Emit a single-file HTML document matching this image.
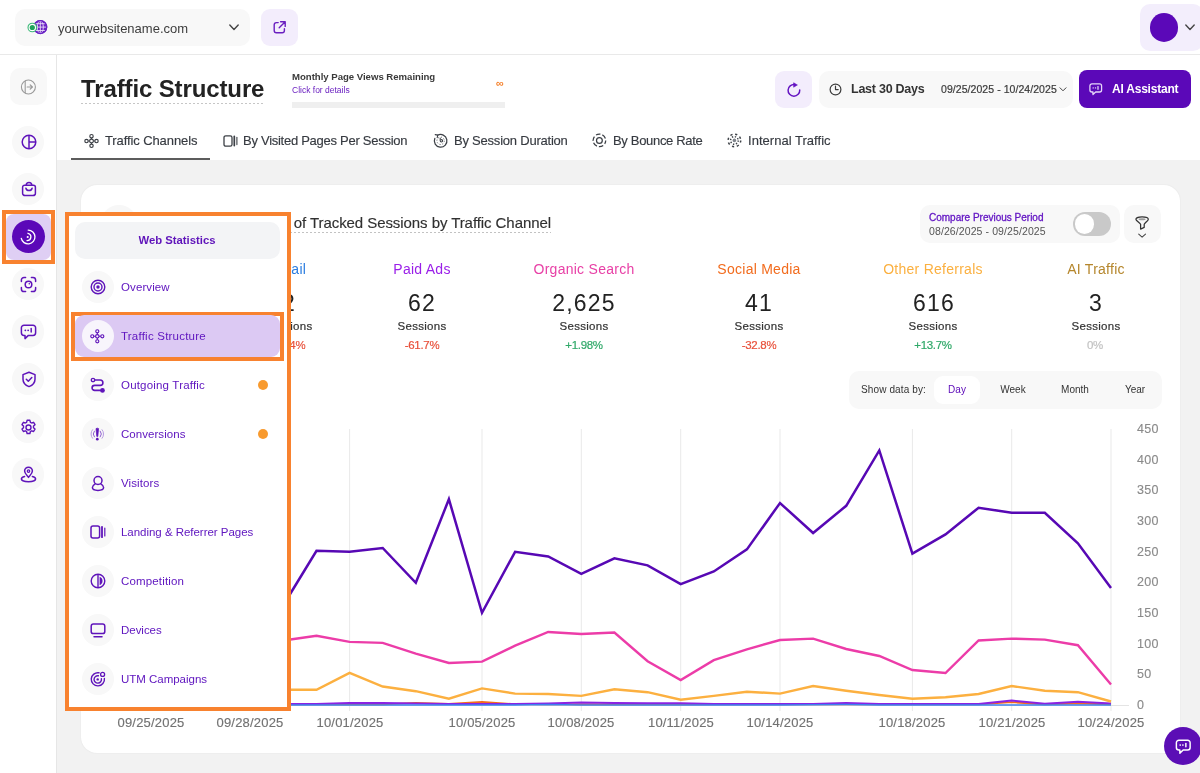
<!DOCTYPE html>
<html>
<head>
<meta charset="utf-8">
<title>Traffic Structure</title>
<style>
*{box-sizing:border-box;margin:0;padding:0}
html,body{width:1200px;height:773px;overflow:hidden;background:#fff}
body{font-family:"Liberation Sans",sans-serif;color:#222;position:relative}
.abs{position:absolute}
.t{position:absolute;white-space:nowrap;line-height:1;will-change:transform}
svg{position:absolute;overflow:visible}
/* header */
#hdr{left:0;top:0;width:1200px;height:55px;background:#fff;border-bottom:1px solid #e9e9e9}
#site{left:14.500px;top:9px;width:235px;height:37px;background:#f8f8f8;border-radius:10px}
#ext{left:261px;top:9px;width:37px;height:37px;background:#f3edfc;border-radius:9px}
#ava{left:1140.400px;top:4.200px;width:63px;height:46.800px;background:#f3eefc;border-radius:10px}
#avac{left:1149.800px;top:13px;width:28.600px;height:28.800px;border-radius:50%;background:#5b08b8}
/* sidebar */
#side{left:0;top:55px;width:57px;height:718px;background:#fff;border-right:1px solid #e6e6e6}
.sic{position:absolute;left:12.100px;width:32.300px;height:32.300px;border-radius:50%;background:#f8f8f8}
#collapse{left:9.700px;top:68.200px;width:37.200px;height:37px;background:#f8f8f8;border-radius:10px}
/* main */
#graybg{left:57px;top:160px;width:1143px;height:613px;background:#f2f2f2}
#card{left:81px;top:185.400px;width:1099.300px;height:567.600px;background:#fff;border-radius:16px;box-shadow:0 0 2px rgba(0,0,0,0.070)}
.tab{top:140px;transform:translateY(-50%);font-size:13px;color:#363a40;-webkit-text-stroke:0.150px #363a40}
.cl{top:268.900px;transform:translate(-50%,-50%);font-size:14px;letter-spacing:0.260px;margin-left:0.130px}
.cn{top:302.900px;transform:translate(-50%,-50%);font-size:23px;color:#222;letter-spacing:1.200px;margin-left:0.600px}
.cs{top:327.400px;transform:translate(-50%,-50%);font-size:11.500px;color:#333;-webkit-text-stroke:0.200px #333;letter-spacing:0.300px;margin-left:0.150px}
.cp{top:346px;transform:translate(-50%,-50%);font-size:11.500px;-webkit-text-stroke:0.200px;letter-spacing:-0.300px;margin-left:-0.150px}
.sd{top:390.300px;transform:translate(-50%,-50%);font-size:10px;color:#333}
.yl{left:1136.800px;transform:translateY(-50%);font-size:12.500px;letter-spacing:0.350px;color:#8a8a8a;-webkit-text-stroke:0.120px #8a8a8a}
.xl{top:722px;transform:translate(-50%,-50%);font-size:13px;letter-spacing:0.200px;margin-left:0.100px;color:#727272;-webkit-text-stroke:0.150px #727272}
.mic{position:absolute;left:81.500px;width:32px;height:32px;border-radius:50%;background:#f8f8f8}
.mt{left:120.500px;margin-top:0.900px;transform:translateY(-50%);font-size:11.500px;color:#6118c0}
</style>
</head>
<body>
<!-- HEADER -->
<div class="abs" id="hdr"></div>
<div class="abs" id="site"></div>
<div class="abs" id="ext"></div>
<div class="abs" id="ava"></div>
<div class="abs" id="avac"></div>
<!-- SIDEBAR -->
<div class="abs" id="side"></div>
<div class="abs" id="collapse"></div>
<!-- MAIN -->
<div class="abs" id="graybg"></div>
<div class="abs" id="card"></div>

<!-- header content -->
<svg style="left:27px;top:19px" width="21" height="17" viewBox="0 0 21 17">
  <circle cx="13.300" cy="8.100" r="7" fill="#6a22c4"/>
  <ellipse cx="13.300" cy="8.100" rx="3" ry="6.200" fill="none" stroke="#e9dcf8" stroke-width="0.900"/>
  <path d="M7 8.100h12.600M8 4.700h10.600M8 11.500h10.600M13.300 1.800v12.600" stroke="#e9dcf8" stroke-width="0.900" fill="none"/>
  <circle cx="13.300" cy="8.100" r="6.400" fill="none" stroke="#6a22c4" stroke-width="1.300"/>
  <circle cx="5.300" cy="8.500" r="4.300" fill="#fff" stroke="#3cb878" stroke-width="1.100"/>
  <circle cx="5.300" cy="8.500" r="2.600" fill="#1fa35c"/>
</svg>
<span class="t" style="left:58.300px;top:27.500px;transform:translateY(-50%);font-size:13px;color:#3d3d3d">yourwebsitename.com</span>
<svg style="left:229px;top:24px" width="10" height="7" viewBox="0 0 10 7"><path d="M0.8 1l4.2 4.4L9.2 1" fill="none" stroke="#444" stroke-width="1.4" stroke-linecap="round" stroke-linejoin="round"/></svg>
<svg style="left:272px;top:20px" width="15" height="15" viewBox="0 0 15 15"><path d="M6.2 2.6H4.4a2.2 2.2 0 0 0-2.2 2.2v5.8a2.2 2.2 0 0 0 2.2 2.2h5.8a2.2 2.2 0 0 0 2.2-2.2V8.8" fill="none" stroke="#6a1fc0" stroke-width="1.4" stroke-linecap="round"/><path d="M8.6 1.8h4.6v4.6M13 2L7.2 7.8" fill="none" stroke="#6a1fc0" stroke-width="1.4" stroke-linecap="round" stroke-linejoin="round"/></svg>
<svg style="left:1185px;top:23.800px" width="10" height="7" viewBox="0 0 10 7"><path d="M0.8 1l4.200 4.400L9.200 1" fill="none" stroke="#444" stroke-width="1.4" stroke-linecap="round" stroke-linejoin="round"/></svg>

<!-- title row -->
<span class="t" id="ttl" style="left:81px;top:89.300px;transform:translateY(-50%);font-size:24px;font-weight:700;color:#222;letter-spacing:-0.12px">Traffic Structure</span>
<div class="abs" style="left:81px;top:103px;width:184px;height:1px;background:repeating-linear-gradient(90deg,#c6c6c6 0 2px,transparent 2px 4px)"></div>
<span class="t" style="left:291.5px;top:76.5px;transform:translateY(-50%);font-size:9.600px;font-weight:700;color:#3a3a3a;letter-spacing:-0.020px">Monthly Page Views Remaining</span>
<span class="t" style="left:291.5px;top:89.5px;transform:translateY(-50%);font-size:8.5px;color:#6a1fc0">Click for details</span>
<span class="t" style="left:495.5px;top:83px;transform:translateY(-50%);font-size:11px;font-weight:700;color:#f5802a">&#8734;</span>
<div class="abs" style="left:291.5px;top:102px;width:213.5px;height:6px;background:#efefef"></div>

<div class="abs" style="left:775.100px;top:70.600px;width:37px;height:37.200px;border-radius:9px;background:#f3edfc"></div>
<svg style="left:785.600px;top:80.700px" width="15.800" height="16.700" viewBox="0 0 17 18"><path d="M9.300 3.800A6.300 6.300 0 1 0 14.800 9.700" fill="none" stroke="#6414c2" stroke-width="1.600" stroke-linecap="round"/><path d="M8.200 1.900L12.300 4.300 8.200 6.700z" fill="#6414c2" stroke="#6414c2" stroke-width="0.600" stroke-linejoin="round"/></svg>
<div class="abs" style="left:819px;top:70.600px;width:254px;height:37.200px;border-radius:10px;background:#f8f8f8"></div>
<svg style="left:829.400px;top:82.700px" width="13" height="13" viewBox="0 0 13 13"><circle cx="6.500" cy="6.500" r="5.400" fill="none" stroke="#3c3c3c" stroke-width="1.200"/><path d="M6.500 3.200v3.400h2.700" fill="none" stroke="#3c3c3c" stroke-width="1.200" stroke-linecap="round" stroke-linejoin="round"/></svg>
<span class="t" style="left:851px;top:89px;transform:translateY(-50%);font-size:12.5px;font-weight:700;color:#333;letter-spacing:-0.25px">Last 30 Days</span>
<span class="t" style="left:941px;top:89px;transform:translateY(-50%);font-size:10.500px;color:#3a3a3a;-webkit-text-stroke:0.200px #3a3a3a;letter-spacing:0.060px">09/25/2025 - 10/24/2025</span>
<svg style="left:1058.5px;top:87px" width="8" height="5" viewBox="0 0 8 5"><path d="M1 0.8l3 3 3-3" fill="none" stroke="#444" stroke-width="1" stroke-linecap="round" stroke-linejoin="round"/></svg>
<div class="abs" style="left:1079.300px;top:70px;width:111.500px;height:38.200px;border-radius:8px;background:#5b08b8"></div>
<svg style="left:1089.300px;top:83.200px" width="13.500" height="12.600" viewBox="0 0 15 14"><path d="M3.2 1h8.6a2.2 2.2 0 0 1 2.2 2.2v4.6a2.2 2.2 0 0 1-2.2 2.2H7.4L4.4 12.8V10H3.2A2.2 2.2 0 0 1 1 7.8V3.2A2.2 2.2 0 0 1 3.2 1z" fill="none" stroke="#e6d6f9" stroke-width="1.4" stroke-linejoin="round"/><path d="M4.6 5.5h.1M7.2 5.5h.1" stroke="#e6d6f9" stroke-width="1.5" stroke-linecap="round"/><path d="M10 4v3" stroke="#e6d6f9" stroke-width="1.4" stroke-linecap="round"/></svg>
<span class="t" style="left:1112px;top:89px;transform:translateY(-50%);font-size:12px;font-weight:700;color:#fff;letter-spacing:-0.220px">AI Assistant</span>

<!-- tabs -->
<span class="t tab" style="left:105px;letter-spacing:-0.1px">Traffic Channels</span>
<span class="t tab" style="left:243px;letter-spacing:-0.27px">By Visited Pages Per Session</span>
<span class="t tab" style="left:454px;letter-spacing:-0.22px">By Session Duration</span>
<span class="t tab" style="left:613px;letter-spacing:-0.32px">By Bounce Rate</span>
<span class="t tab" style="left:747.500px;letter-spacing:0.03px">Internal Traffic</span>
<div class="abs" style="left:71px;top:158.400px;width:139px;height:1.600px;background:#5c5c5c"></div>

<!-- sidebar icons -->
<svg style="left:20px;top:79px" width="17" height="16" viewBox="0 0 17 16"><circle cx="8.4" cy="8" r="7" fill="none" stroke="#9a9a9a" stroke-width="1.1"/><path d="M5.2 1.9v12.2" stroke="#9a9a9a" stroke-width="1.1"/><path d="M7.2 8h5M10.2 5.8L12.4 8l-2.2 2.2" fill="none" stroke="#9a9a9a" stroke-width="1.2" stroke-linecap="round" stroke-linejoin="round"/></svg>
<div class="sic" style="top:126.10px"></div>
<div class="sic" style="top:173.05px"></div>
<div class="abs" style="left:2px;top:210px;width:53px;height:54.200px;border:4px solid #f8822f"></div>
<div class="abs" style="left:6px;top:214px;width:45px;height:46.200px;border-radius:8px;background:#dfcff4"></div>
<div class="abs" style="left:11.700px;top:220.200px;width:33.200px;height:33.200px;border-radius:50%;background:#5b08b8"></div>
<div class="sic" style="top:268.15px"></div>
<div class="sic" style="top:315.45px"></div>
<div class="sic" style="top:362.95px"></div>
<div class="sic" style="top:410.85px"></div>
<div class="sic" style="top:458.35px"></div>
<!-- pie -->
<svg style="left:20.5px;top:134px" width="16" height="16" viewBox="0 0 16 16"><circle cx="8" cy="8" r="6.8" fill="none" stroke="#5f14ba" stroke-width="1.5"/><path d="M8 1.2v13.6M8 8h6.8" stroke="#5f14ba" stroke-width="1.5"/></svg>
<!-- bag -->
<svg style="left:20.5px;top:181px" width="16" height="16" viewBox="0 0 16 16"><path d="M3.6 4.2h8.8a2 2 0 0 1 2 2v6a2.4 2.4 0 0 1-2.4 2.4H4a2.4 2.4 0 0 1-2.4-2.4v-6a2 2 0 0 1 2-2z" fill="none" stroke="#5f14ba" stroke-width="1.5" stroke-linejoin="round"/><path d="M5.2 4.2c0-1.8 1.2-2.8 2.8-2.8s2.8 1 2.8 2.8" fill="none" stroke="#5f14ba" stroke-width="1.5"/><path d="M4.9 7.2c.4 1.5 1.6 2.3 3.1 2.3s2.7-.8 3.1-2.3" fill="none" stroke="#5f14ba" stroke-width="1.5" stroke-linecap="round"/></svg>
<!-- active spiral -->
<svg style="left:20.300px;top:229px" width="16" height="16" viewBox="0 0 16 16"><path d="M8.200 1.100A6.900 6.900 0 1 1 1.300 9.400" fill="none" stroke="#fff" stroke-width="1.350" stroke-linecap="round"/><path d="M8 4.300A3.700 3.700 0 0 1 7 11.600" fill="none" stroke="#fff" stroke-width="1.350" stroke-linecap="round"/><circle cx="7.700" cy="8" r="1.050" fill="#fff"/></svg>
<!-- scan -->
<svg style="left:20px;top:276px" width="17" height="17" viewBox="0 0 17 17"><path d="M1.4 5.6V4a2.6 2.6 0 0 1 2.6-2.6h1.6M11.4 1.4H13A2.6 2.6 0 0 1 15.600 4v1.600M15.600 11.4V13a2.600 2.600 0 0 1-2.600 2.600h-1.600M5.600 15.600H4A2.600 2.600 0 0 1 1.400 13v-1.600" fill="none" stroke="#5f14ba" stroke-width="1.5" stroke-linecap="round"/><circle cx="8.5" cy="8.500" r="3.300" fill="none" stroke="#5f14ba" stroke-width="1.500"/><circle cx="9.300" cy="7.700" r=".8" fill="#5f14ba"/></svg>
<!-- chat -->
<svg style="left:20px;top:323.500px" width="17" height="16" viewBox="0 0 17 16"><path d="M4 1.200h9a2.600 2.600 0 0 1 2.600 2.600v5a2.600 2.600 0 0 1-2.600 2.600H8.400L5 14.600v-3.200H4a2.600 2.600 0 0 1-2.600-2.600v-5A2.600 2.600 0 0 1 4 1.200z" fill="none" stroke="#5f14ba" stroke-width="1.500" stroke-linejoin="round"/><path d="M5.300 6.300h.1M8.100 6.300h.1" stroke="#5f14ba" stroke-width="1.700" stroke-linecap="round"/><path d="M11.200 4.600v3.400" stroke="#5f14ba" stroke-width="1.500" stroke-linecap="round"/></svg>
<!-- shield -->
<svg style="left:20.500px;top:370.500px" width="16" height="17" viewBox="0 0 16 17"><path d="M8 1.200l6 2.400v4.600c0 3.400-2.400 6-6 7.400-3.600-1.400-6-4-6-7.400V3.600z" fill="none" stroke="#5f14ba" stroke-width="1.500" stroke-linejoin="round"/><path d="M5.300 8.200l2 2 3.500-3.700" fill="none" stroke="#5f14ba" stroke-width="1.500" stroke-linecap="round" stroke-linejoin="round"/></svg>
<!-- gear -->
<svg style="left:20px;top:418.500px" width="17" height="17" viewBox="0 0 17 17"><path d="M7.100 1.300h2.800l.5 2 1.300.7 1.900-.7 1.400 2.400-1.500 1.400v1.600l1.500 1.400-1.400 2.400-1.900-.7-1.300.7-.5 2H7.100l-.5-2-1.300-.7-1.900.7L2 10.100l1.500-1.400V7.100L2 5.700l1.400-2.400 1.900.7 1.300-.7z" fill="none" stroke="#5f14ba" stroke-width="1.400" stroke-linejoin="round"/><circle cx="8.500" cy="8.500" r="2.500" fill="none" stroke="#5f14ba" stroke-width="1.400"/></svg>
<!-- pin -->
<svg style="left:20px;top:466px" width="17" height="17" viewBox="0 0 17 17"><path d="M8.500 1.200a3.900 3.900 0 0 1 3.900 3.900c0 2.500-2.600 4.600-3.900 6.300-1.300-1.700-3.900-3.800-3.900-6.300a3.900 3.900 0 0 1 3.900-3.900z" fill="none" stroke="#5f14ba" stroke-width="1.500" stroke-linejoin="round"/><circle cx="8.500" cy="5.100" r="1.200" fill="none" stroke="#5f14ba" stroke-width="1.300"/><path d="M4.600 10.600c-1.900.5-3.200 1.400-3.200 2.500 0 1.500 3.200 2.700 7.100 2.700s7.100-1.200 7.100-2.700c0-1.100-1.300-2-3.200-2.500" fill="none" stroke="#5f14ba" stroke-width="1.500" stroke-linecap="round"/></svg>

<!-- card content -->
<div class="abs" style="left:101px;top:205px;width:36px;height:36px;border-radius:50%;background:#f7f7f7"></div>
<span class="t" id="ctitle" style="left:550.700px;top:221.600px;transform:translate(-100%,-50%);font-size:15px;color:#303030;-webkit-text-stroke:0.150px #303030;letter-spacing:-0.070px">Number of Tracked Sessions by Traffic Channel</span>
<div class="abs" style="left:150px;top:232px;width:401px;height:1px;background:repeating-linear-gradient(90deg,#c2c2c2 0 2px,transparent 2px 4px)"></div>
<span class="t cl" style="left:287.5px;color:#2b7de0">Email</span><span class="t cn" style="left:288.700px">2</span><span class="t cs" style="left:287.5px">Sessions</span><span class="t cp" style="left:288.500px;color:#e8503a">-71.4%</span>
<span class="t cl" style="left:421.8px;color:#9a1fe8">Paid Ads</span><span class="t cn" style="left:421.8px">62</span><span class="t cs" style="left:421.8px">Sessions</span><span class="t cp" style="left:421.8px;color:#e8503a">-61.7%</span>
<span class="t cl" style="left:583.8px;color:#e840a6">Organic Search</span><span class="t cn" style="left:583.8px">2,625</span><span class="t cs" style="left:583.8px">Sessions</span><span class="t cp" style="left:583.8px;color:#2fa868">+1.98%</span>
<span class="t cl" style="left:758.8px;color:#f26c1e">Social Media</span><span class="t cn" style="left:758.8px">41</span><span class="t cs" style="left:758.8px">Sessions</span><span class="t cp" style="left:758.8px;color:#e8503a">-32.8%</span>
<span class="t cl" style="left:933.2px;color:#fbb040">Other Referrals</span><span class="t cn" style="left:933.2px">616</span><span class="t cs" style="left:933.2px">Sessions</span><span class="t cp" style="left:933.2px;color:#2fa868">+13.7%</span>
<span class="t cl" style="left:1095.5px;color:#b5862c">AI Traffic</span><span class="t cn" style="left:1095.5px">3</span><span class="t cs" style="left:1095.5px">Sessions</span><span class="t cp" style="left:1095.5px;color:#c2c2c2">0%</span>

<div class="abs" style="left:920px;top:205px;width:199.5px;height:37.500px;border-radius:10px;background:#f8f8f8"></div>
<span class="t" style="left:929.3px;top:217.500px;transform:translateY(-50%);font-size:10px;color:#6417c4;-webkit-text-stroke:0.300px #6417c4;letter-spacing:0px">Compare Previous Period</span>
<span class="t" style="left:929.300px;top:231.100px;transform:translateY(-50%);font-size:10.5px;color:#555;letter-spacing:0.1px">08/26/2025 - 09/25/2025</span>
<div class="abs" style="left:1072.5px;top:212px;width:38.5px;height:23.5px;border-radius:12px;background:#c9c9c9"></div>
<div class="abs" style="left:1074.5px;top:214px;width:19.5px;height:19.5px;border-radius:50%;background:#fff"></div>
<div class="abs" style="left:1124px;top:205.300px;width:37.300px;height:37.600px;border-radius:10px;background:#f8f8f8"></div>
<svg style="left:1135.400px;top:216px" width="15" height="24" viewBox="0 0 15 24"><path d="M0.900 3.200C0.900 1.900 3.700 0.900 7.100 0.900S13.300 1.900 13.300 3.200C13.300 4.700 10 6.600 9.200 8.200V11.400L5.600 13.100V8.200C4.800 6.600 0.900 4.700 0.900 3.200Z" fill="none" stroke="#333" stroke-width="1.250" stroke-linejoin="round"/><ellipse cx="7.100" cy="3.300" rx="3.500" ry="0.950" fill="#9c9c9c"/><path d="M3.700 18.100l3.400 3 3.400-3" fill="none" stroke="#444" stroke-width="1.050" stroke-linecap="round" stroke-linejoin="round"/></svg>

<div class="abs" style="left:849px;top:371px;width:312.500px;height:37.500px;border-radius:10px;background:#f8f8f8"></div>
<div class="abs" style="left:934.300px;top:375.500px;width:45.700px;height:28.500px;border-radius:9px;background:#fff"></div>
<span class="t" style="left:860.700px;top:390.300px;transform:translateY(-50%);font-size:10px;color:#333;letter-spacing:0.12px">Show data by:</span>
<span class="t sd" style="left:957px;color:#5b08b8">Day</span>
<span class="t sd" style="left:1013.300px">Week</span>
<span class="t sd" style="left:1075.400px">Month</span>
<span class="t sd" style="left:1134.800px">Year</span>
<!-- chart -->
<svg style="left:0;top:0" width="1200" height="773" viewBox="0 0 1200 773">
<path d="M151.0 429V711" stroke="#e9e9e9" stroke-width="1"/><path d="M250.3 429V711" stroke="#e9e9e9" stroke-width="1"/><path d="M349.6 429V711" stroke="#e9e9e9" stroke-width="1"/><path d="M482.0 429V711" stroke="#e9e9e9" stroke-width="1"/><path d="M581.3 429V711" stroke="#e9e9e9" stroke-width="1"/><path d="M680.7 429V711" stroke="#e9e9e9" stroke-width="1"/><path d="M780.0 429V711" stroke="#e9e9e9" stroke-width="1"/><path d="M912.4 429V711" stroke="#e9e9e9" stroke-width="1"/><path d="M1011.7 429V711" stroke="#e9e9e9" stroke-width="1"/><path d="M1111.0 429V711" stroke="#e9e9e9" stroke-width="1"/>
<path d="M118 705.500H1129" stroke="#e4e4e4" stroke-width="1"/>
<polyline points="151.0,704.4 184.1,704.4 217.2,704.4 250.3,704.4 283.4,704.4 316.5,704.4 349.6,704.4 382.7,704.4 415.8,702.8 448.9,703.8 482.0,701.8 515.1,704.2 548.2,704.4 581.3,704.4 614.4,704.4 647.6,704.4 680.7,704.4 713.8,704.4 746.9,704.4 780.0,704.4 813.1,704.4 846.2,704.4 879.3,704.4 912.4,704.4 945.5,704.4 978.6,704.4 1011.7,702.2 1044.8,704.4 1077.9,703.4 1111.0,704.4" fill="none" stroke="#f26c1e" stroke-width="1.800" stroke-linejoin="round"/>
<polyline points="151.0,704.0 184.1,704.0 217.2,704.0 250.3,704.0 283.4,704.0 316.5,704.0 349.6,703.0 382.7,703.0 415.8,703.6 448.9,704.0 482.0,704.0 515.1,704.0 548.2,703.4 581.3,702.4 614.4,703.0 647.6,703.2 680.7,703.2 713.8,704.0 746.9,704.0 780.0,704.0 813.1,704.0 846.2,703.0 879.3,704.0 912.4,704.0 945.5,704.0 978.6,704.0 1011.7,700.6 1044.8,703.8 1077.9,701.8 1111.0,703.6" fill="none" stroke="#8b22e2" stroke-width="2" stroke-linejoin="round"/>
<polyline points="151.0,705.1 184.1,705.1 217.2,705.1 250.3,705.1 283.4,705.1 316.5,705.1 349.6,705.1 382.7,705.1 415.8,705.1 448.9,705.1 482.0,705.1 515.1,705.1 548.2,704.6 581.3,705.1 614.4,705.1 647.6,705.1 680.7,705.1 713.8,705.1 746.9,705.1 780.0,705.1 813.1,704.8 846.2,704.6 879.3,705.1 912.4,705.1 945.5,705.1 978.6,705.1 1011.7,705.1 1044.8,705.1 1077.9,705.1 1111.0,705.1" fill="none" stroke="#3b82f0" stroke-width="1.500" stroke-linejoin="round"/>
<polyline points="151.0,700.0 184.1,695.0 217.2,692.0 250.3,690.0 283.4,689.8 316.5,689.8 349.6,672.9 382.7,686.5 415.8,691.2 448.9,698.7 482.0,688.4 515.1,693.6 548.2,694.0 581.3,695.9 614.4,689.3 647.6,692.2 680.7,699.7 713.8,695.9 746.9,691.7 780.0,693.6 813.1,686.0 846.2,690.8 879.3,695.0 912.4,698.7 945.5,697.3 978.6,694.0 1011.7,686.0 1044.8,690.8 1077.9,692.2 1111.0,701.5" fill="none" stroke="#fcb040" stroke-width="2.400"/>
<polyline points="151.0,690.0 184.1,660.0 217.2,650.0 250.3,645.0 283.4,640.5 316.5,635.8 349.6,641.9 382.7,642.9 415.8,653.7 448.9,663.0 482.0,661.6 515.1,645.7 548.2,632.0 581.3,634.0 614.4,632.5 647.6,661.2 680.7,680.0 713.8,660.2 746.9,649.4 780.0,640.0 813.1,638.6 846.2,649.0 879.3,656.0 912.4,670.0 945.5,673.0 978.6,640.5 1011.7,638.6 1044.8,639.6 1077.9,645.2 1111.0,684.6" fill="none" stroke="#ec3ca8" stroke-width="2.400"/>
<polyline points="151.0,700.0 184.1,650.0 217.2,620.0 250.3,610.0 283.4,605.0 316.5,550.8 349.6,551.8 382.7,548.0 415.8,582.8 448.9,499.2 482.0,612.8 515.1,551.8 548.2,556.5 581.3,573.8 614.4,558.4 647.6,565.4 680.7,584.2 713.8,571.5 746.9,549.4 780.0,503.0 813.1,533.0 846.2,505.8 879.3,450.4 912.4,553.7 945.5,534.4 978.6,507.7 1011.7,512.8 1044.8,512.8 1077.9,543.3 1111.0,587.9" fill="none" stroke="#5708b4" stroke-width="2.500"/>
</svg>
<span class="t yl" style="top:705.0px">0</span><span class="t yl" style="top:674.3px">50</span><span class="t yl" style="top:643.7px">100</span><span class="t yl" style="top:613.0px">150</span><span class="t yl" style="top:582.3px">200</span><span class="t yl" style="top:551.7px">250</span><span class="t yl" style="top:521.0px">300</span><span class="t yl" style="top:490.3px">350</span><span class="t yl" style="top:459.7px">400</span><span class="t yl" style="top:429.0px">450</span>
<span class="t xl" style="left:151.0px">09/25/2025</span><span class="t xl" style="left:250.3px">09/28/2025</span><span class="t xl" style="left:349.6px">10/01/2025</span><span class="t xl" style="left:482.0px">10/05/2025</span><span class="t xl" style="left:581.3px">10/08/2025</span><span class="t xl" style="left:680.7px">10/11/2025</span><span class="t xl" style="left:780.0px">10/14/2025</span><span class="t xl" style="left:912.4px">10/18/2025</span><span class="t xl" style="left:1011.7px">10/21/2025</span><span class="t xl" style="left:1111.0px">10/24/2025</span>
<div class="abs" style="left:1163.900px;top:727px;width:38.300px;height:38.300px;border-radius:50%;background:#5b0eb5"></div>
<svg style="left:1174.700px;top:738.700px" width="16.500" height="15.500" viewBox="0 0 17 16"><path d="M4 1.200h9a2.600 2.600 0 0 1 2.600 2.600v5a2.600 2.600 0 0 1-2.600 2.600H8.400L5 14.600v-3.200H4a2.600 2.600 0 0 1-2.600-2.600v-5A2.600 2.600 0 0 1 4 1.200z" fill="none" stroke="#fff" stroke-width="1.500" stroke-linejoin="round"/><path d="M5.300 6.300h.1M8.100 6.300h.1" stroke="#fff" stroke-width="1.700" stroke-linecap="round"/><path d="M11.200 4.600v3.400" stroke="#fff" stroke-width="1.500" stroke-linecap="round"/></svg>

<!-- menu overlay -->
<div class="abs" style="left:65px;top:212px;width:226px;height:499px;background:#fff;border:4px solid #f8822f"></div>
<div class="abs" style="left:74.500px;top:221.500px;width:205.500px;height:37.500px;border-radius:10px;background:#f3f4f6"></div>
<span class="t" style="left:177.300px;top:241.100px;transform:translate(-50%,-50%);font-size:11.300px;font-weight:700;color:#5f14ba;letter-spacing:0px">Web Statistics</span>
<div class="mic" style="top:271px"></div><span class="t mt" style="top:286.8px;letter-spacing:0.1px">Overview</span>
<div class="abs" style="left:71px;top:311.500px;width:213px;height:49px;border:4px solid #f8822f"></div><div class="abs" style="left:75px;top:315px;width:205px;height:42px;border-radius:9px;background:#dcc9f3"></div><div class="mic" style="top:320px;background:#f8f5fc"></div><span class="t mt" style="top:335.8px;letter-spacing:0.22px">Traffic Structure</span>
<div class="mic" style="top:369px"></div><span class="t mt" style="top:384.8px;letter-spacing:0.19px">Outgoing Traffic</span>
<div class="mic" style="top:418px"></div><span class="t mt" style="top:433.8px;letter-spacing:0.05px">Conversions</span>
<div class="mic" style="top:467px"></div><span class="t mt" style="top:482.8px;letter-spacing:0.1px">Visitors</span>
<div class="mic" style="top:516px"></div><span class="t mt" style="top:531.8px;letter-spacing:-0.03px">Landing &amp; Referrer Pages</span>
<div class="mic" style="top:565px"></div><span class="t mt" style="top:580.8px;letter-spacing:0.16px">Competition</span>
<div class="mic" style="top:614px"></div><span class="t mt" style="top:629.8px;letter-spacing:-0.03px">Devices</span>
<div class="mic" style="top:663px"></div><span class="t mt" style="top:678.8px;letter-spacing:-0.02px">UTM Campaigns</span>

<!-- overview -->
<svg style="left:89.500px;top:279px" width="16" height="16" viewBox="0 0 16 16"><circle cx="8" cy="8" r="6.800" fill="none" stroke="#5f14ba" stroke-width="1.400"/><circle cx="8" cy="8" r="4" fill="none" stroke="#5f14ba" stroke-width="1.400"/><circle cx="8" cy="8" r="1.700" fill="#5f14ba"/></svg>
<!-- traffic structure -->
<svg style="left:90.200px;top:328.700px" width="14.600" height="14.600" viewBox="0 0 16 16"><g fill="none" stroke="#5f14ba" stroke-width="1.250"><circle cx="8" cy="8" r="1.900"/><circle cx="8" cy="2.500" r="1.700"/><circle cx="8" cy="13.500" r="1.700"/><circle cx="2.500" cy="8" r="1.700"/><circle cx="13.500" cy="8" r="1.700"/><path d="M8 4.200v1.900M8 9.900v1.900M4.200 8h1.900M9.900 8h1.900"/></g></svg>
<!-- outgoing -->
<svg style="left:90px;top:377px" width="16" height="17" viewBox="0 0 16 17"><circle cx="3" cy="3" r="1.700" fill="none" stroke="#5f14ba" stroke-width="1.300"/><path d="M4.800 3h5.400a2.700 2.700 0 0 1 0 5.400H4.600a2.500 2.500 0 0 0 0 5h6.200" fill="none" stroke="#5f14ba" stroke-width="1.600" stroke-linecap="round"/><circle cx="12.500" cy="13.400" r="2.350" fill="#5f14ba"/></svg>
<!-- conversions -->
<svg style="left:89px;top:426px" width="17" height="17" viewBox="0 0 17 17"><path d="M7 2.600q1.300-.9 2.600 0l-.8 7.800h-1z" fill="#5f14ba" stroke="#5f14ba" stroke-width="0.700" stroke-linejoin="round"/><circle cx="8.300" cy="13.200" r="1.350" fill="#5f14ba"/><path d="M5.600 4.800a5 5 0 0 0 0 6.400M11 4.800a5 5 0 0 1 0 6.400" fill="none" stroke="#8f5fd0" stroke-width="1"/><path d="M3.800 3.400a7 7 0 0 0 0 9.200M12.800 3.400a7 7 0 0 1 0 9.200" fill="none" stroke="#b89be2" stroke-width="1"/></svg>
<!-- visitors -->
<svg style="left:90.500px;top:475px" width="14" height="17" viewBox="0 0 14 17"><circle cx="7" cy="5.500" r="4" fill="none" stroke="#5f14ba" stroke-width="1.500"/><path d="M4.200 8.800c-1.600.9-2.800 2.300-2.800 3.800 0 1.800 2.400 2.800 5.600 2.800s5.600-1 5.600-2.800c0-1.500-1.200-2.900-2.800-3.800" fill="none" stroke="#5f14ba" stroke-width="1.500" stroke-linecap="round"/></svg>
<!-- landing -->
<svg style="left:89.500px;top:525px" width="16" height="14" viewBox="0 0 16 14"><rect x="1" y="1" width="8.600" height="12" rx="2" fill="none" stroke="#5f14ba" stroke-width="1.500"/><path d="M12 1.800v10.400" stroke="#5f14ba" stroke-width="1.800" stroke-linecap="round"/><path d="M14.800 3v8" stroke="#5f14ba" stroke-width="1.200" stroke-linecap="round"/></svg>
<!-- competition -->
<svg style="left:89.500px;top:573px" width="16" height="16" viewBox="0 0 16 16"><circle cx="8" cy="8" r="6.800" fill="none" stroke="#5f14ba" stroke-width="1.400"/><path d="M8 1.200v13.600" stroke="#5f14ba" stroke-width="1.400"/><path d="M9.600 3.800a4.500 4.500 0 0 1 0 8.400z" fill="#5f14ba"/></svg>
<!-- devices -->
<svg style="left:89.500px;top:623px" width="16" height="15" viewBox="0 0 16 15"><rect x="1.200" y="1" width="13.600" height="9.600" rx="2.200" fill="none" stroke="#5f14ba" stroke-width="1.500"/><path d="M4 13.800h8" stroke="#5f14ba" stroke-width="1.500" stroke-linecap="round"/></svg>
<!-- utm -->
<svg style="left:89.500px;top:671px" width="16" height="16" viewBox="0 0 16 16"><path d="M9 1.800a6.600 6.600 0 1 0 5.400 5.600" fill="none" stroke="#5f14ba" stroke-width="1.400" stroke-linecap="round"/><path d="M8.400 4.800a3.700 3.700 0 1 0 3 3" fill="none" stroke="#5f14ba" stroke-width="1.400" stroke-linecap="round"/><circle cx="7.700" cy="8.400" r="1.200" fill="#5f14ba"/><circle cx="12.600" cy="3.400" r="2" fill="none" stroke="#5f14ba" stroke-width="1.300"/></svg>

<div class="abs" style="left:257.500px;top:380px;width:10px;height:10px;border-radius:50%;background:#f89a2e"></div>
<div class="abs" style="left:257.500px;top:429px;width:10px;height:10px;border-radius:50%;background:#f89a2e"></div>

<!-- tab icons -->
<svg style="left:83.500px;top:133.500px" width="15" height="14" viewBox="0 0 15 14"><g fill="none" stroke="#3c4046" stroke-width="1.150"><circle cx="7.500" cy="7" r="1.900"/><circle cx="7.500" cy="2.200" r="1.700"/><circle cx="7.500" cy="11.800" r="1.700"/><circle cx="2.500" cy="7" r="1.700"/><circle cx="12.500" cy="7" r="1.700"/><path d="M7.500 3.900v1.200M7.500 8.900v1.200M4.200 7h1.400M9.400 7h1.400"/></g></svg>
<svg style="left:222.500px;top:134.500px" width="15" height="12" viewBox="0 0 15 12"><rect x="1" y="0.800" width="8" height="10.400" rx="1.800" fill="none" stroke="#3c4046" stroke-width="1.300"/><path d="M11.300 1.400v9.200" stroke="#3c4046" stroke-width="1.700" stroke-linecap="round"/><path d="M13.900 2.400v7.200" stroke="#3c4046" stroke-width="1.100" stroke-linecap="round"/></svg>
<svg style="left:432.500px;top:132.800px" width="15" height="15" viewBox="0 0 15 15"><path d="M4.600 2.300A6.300 6.300 0 1 1 1.800 5.400" fill="none" stroke="#3c4046" stroke-width="1.250" stroke-linecap="round"/><path d="M2.200 1.600l2.600.5-.6 2.600" fill="none" stroke="#3c4046" stroke-width="1.100" stroke-linecap="round" stroke-linejoin="round"/><path d="M7.200 5v2.800a1.200 1.200 0 1 0 1.200-1.200" fill="none" stroke="#3c4046" stroke-width="1.100" stroke-linecap="round"/><circle cx="7.600" cy="7.800" r="3.700" fill="none" stroke="#3c4046" stroke-width="1" stroke-dasharray="0.900 2"/></svg>
<svg style="left:592.300px;top:133.300px" width="15" height="15" viewBox="0 0 15 15"><circle cx="7.400" cy="7.400" r="6.300" fill="none" stroke="#3c4046" stroke-width="1.250" stroke-dasharray="4.600 2" stroke-dashoffset="1"/><circle cx="7.400" cy="7.400" r="2.900" fill="none" stroke="#3c4046" stroke-width="1.250"/></svg>
<svg style="left:727.300px;top:133.300px" width="15" height="15" viewBox="0 0 15 15"><circle cx="7.400" cy="7.400" r="6.300" fill="none" stroke="#3c4046" stroke-width="1.500" stroke-dasharray="2.200 2.750"/><circle cx="7.400" cy="7.400" r="3.800" fill="none" stroke="#3c4046" stroke-width="1.500" stroke-dasharray="1.300 1.680"/><circle cx="7.400" cy="7.400" r="1.800" fill="#7f848b"/></svg>
<!--SECTIONS-->






</body>
</html>
